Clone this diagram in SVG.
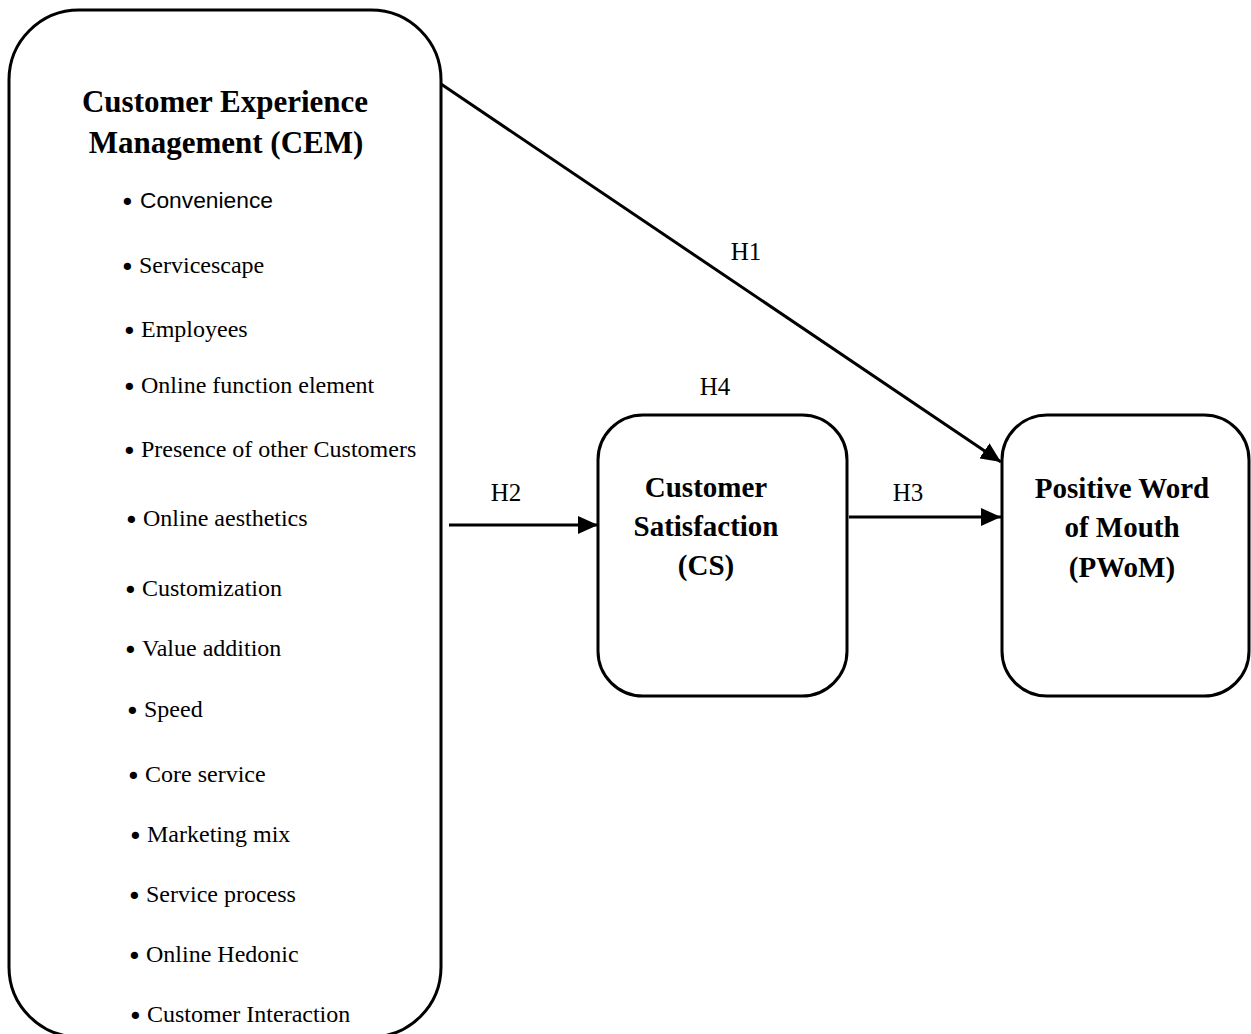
<svg xmlns="http://www.w3.org/2000/svg" width="1251" height="1034" viewBox="0 0 1251 1034">
<style>
.box{fill:#fff;stroke:#000;stroke-width:3}
.title{font-family:"Liberation Serif","Times New Roman",serif;font-weight:bold;font-size:29px;text-anchor:middle;fill:#000}
.item{font-family:"Liberation Serif","Times New Roman",serif;font-size:24px;fill:#000}
.sans{font-family:"Liberation Sans",Arial,sans-serif;font-size:22px;fill:#000}
.b{font-family:"DejaVu Sans",sans-serif;font-size:25px}
.lab{font-family:"Liberation Serif","Times New Roman",serif;font-size:25px;text-anchor:middle;fill:#000}
.conn{stroke:#000;stroke-width:3;fill:none}
</style>
<defs>
<marker id="arr" markerUnits="userSpaceOnUse" markerWidth="22" markerHeight="18" refX="20" refY="9" orient="auto">
<path d="M0,0 L20,9 L0,18 Z" fill="#000"/>
</marker>
</defs>
<rect width="1251" height="1034" fill="#fff"/>
<g id="cem">
<rect class="box" x="9" y="10" width="432" height="1027" rx="70" ry="70"/>
<text class="title" x="225" y="112" style="font-size:31px">Customer Experience</text>
<text class="title" x="226" y="153" style="font-size:31px">Management (CEM)</text>
<text class="sans" x="120" y="208"><tspan class="b" dy="3">•</tspan><tspan x="140" dy="-3" textLength="133" lengthAdjust="spacingAndGlyphs">Convenience</tspan></text>
<text class="item" x="120" y="273"><tspan class="b" dy="3">•</tspan><tspan x="139" dy="-3">Servicescape</tspan></text>
<text class="item" x="122" y="337"><tspan class="b" dy="3">•</tspan><tspan x="141" dy="-3">Employees</tspan></text>
<text class="item" x="122" y="393"><tspan class="b" dy="3">•</tspan><tspan x="141" dy="-3">Online function element</tspan></text>
<text class="item" x="122" y="457"><tspan class="b" dy="3">•</tspan><tspan x="141" dy="-3">Presence of other Customers</tspan></text>
<text class="item" x="124" y="526"><tspan class="b" dy="3">•</tspan><tspan x="143" dy="-3">Online aesthetics</tspan></text>
<text class="item" x="123" y="596"><tspan class="b" dy="3">•</tspan><tspan x="142" dy="-3">Customization</tspan></text>
<text class="item" x="123" y="656"><tspan class="b" dy="3">•</tspan><tspan x="142" dy="-3">Value addition</tspan></text>
<text class="item" x="125" y="717"><tspan class="b" dy="3">•</tspan><tspan x="144" dy="-3">Speed</tspan></text>
<text class="item" x="126" y="782"><tspan class="b" dy="3">•</tspan><tspan x="145" dy="-3">Core service</tspan></text>
<text class="item" x="128" y="842"><tspan class="b" dy="3">•</tspan><tspan x="147" dy="-3">Marketing mix</tspan></text>
<text class="item" x="127" y="902"><tspan class="b" dy="3">•</tspan><tspan x="146" dy="-3">Service process</tspan></text>
<text class="item" x="127" y="962"><tspan class="b" dy="3">•</tspan><tspan x="146" dy="-3">Online Hedonic</tspan></text>
<text class="item" x="128" y="1022"><tspan class="b" dy="3">•</tspan><tspan x="147" dy="-3">Customer Interaction</tspan></text>
</g>
<g id="cs">
<rect class="box" x="598" y="415" width="249" height="281" rx="45" ry="45"/>
<text class="title" x="706" y="497">Customer</text>
<text class="title" x="706" y="536">Satisfaction</text>
<text class="title" x="706" y="575">(CS)</text>
</g>
<g id="pwom">
<rect class="box" x="1002" y="415" width="247" height="281" rx="45" ry="45"/>
<text class="title" x="1122" y="498">Positive Word</text>
<text class="title" x="1122" y="537">of Mouth</text>
<text class="title" x="1122" y="577">(PWoM)</text>
</g>
<g id="connectors">
<line class="conn" x1="441" y1="84" x2="1001" y2="462" marker-end="url(#arr)"/>
<line class="conn" x1="449" y1="525" x2="598" y2="525" marker-end="url(#arr)"/>
<line class="conn" x1="849" y1="517" x2="1001" y2="517" marker-end="url(#arr)"/>
<text class="lab" x="746" y="260">H1</text>
<text class="lab" x="506" y="501">H2</text>
<text class="lab" x="908" y="501">H3</text>
<text class="lab" x="715" y="395">H4</text>
</g>
</svg>
